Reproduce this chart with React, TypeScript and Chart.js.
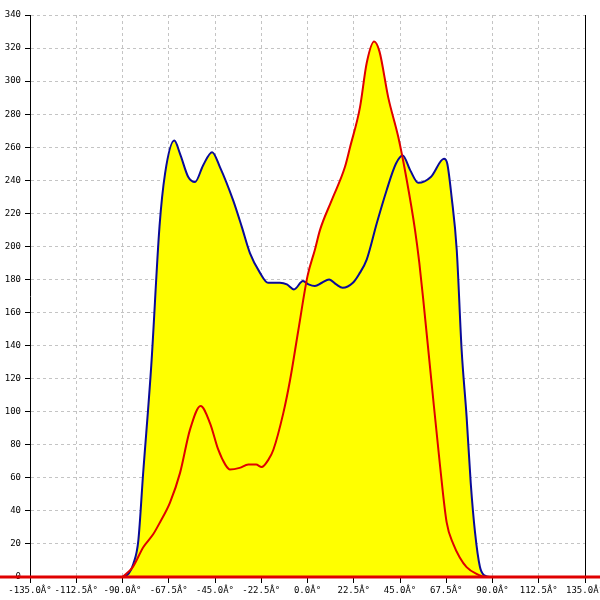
import React, { useEffect, useRef } from "react";
import { Chart, registerables } from "chart.js";

Chart.register(...registerables);

const blueAngles = [-90, -87, -84.7, -82.3, -80, -76, -72, -69.3, -64.8, -62, -58, -54.7, -50.8, -46.4, -42.6, -36.2, -32, -28, -23.1, -19.2, -13.4, -10, -6.6, -2.2, 0.5, 3.6, 7, 10.5, 14, 17.1, 22.1, 25, 28.8, 33.7, 38.5, 43, 46.3, 50, 53.9, 60, 66.4, 68, 70.1, 72.6, 75, 77.4, 79.4, 81.5, 83.9, 86, 88.8, 90];
const blueValues = [0, 2, 8, 22, 62, 128, 212, 244, 264, 256, 242, 239, 249, 257, 248, 228, 212, 196, 184, 178, 178, 177, 174, 179, 177, 176, 178, 180, 177, 175, 178, 183, 192, 214, 234, 250, 255, 246, 238.5, 242, 253, 250, 230, 198, 137, 97, 57, 27, 6, 1, 0, 0];

const redAngles = [-90, -85, -79.9, -75, -71.8, -66.9, -62, -57.2, -52, -47.4, -43.4, -40, -37.7, -33, -28.8, -25, -22.3, -19, -16.6, -11.8, -8.5, -4.5, 0, 3.6, 6.1, 11.8, 18.2, 20.7, 25.5, 28.8, 32.4, 35, 39.3, 44.2, 48.3, 52.3, 54.4, 56.3, 60.4, 64.5, 67.7, 70.9, 74, 77.4, 82, 87.2, 90];
const redValues = [0, 6, 18, 26, 33, 45, 63, 89, 103.5, 93, 77, 68, 65, 66, 68, 68, 66.5, 71, 77, 99, 119, 149, 182, 198, 210, 228, 248, 260, 284, 311, 324, 318, 290, 266, 240, 210, 190, 168, 117, 67, 33, 20, 12, 6, 2, 0, 0];

const xMin = -135;
const xMax = 135;
const xStep = 22.5;
const yMin = 0;
const yMax = 340;
const yStep = 20;

const FONT = { family: "'DejaVu Sans Mono', monospace", size: 9 };

const extras = {
  id: "extras",
  afterDatasetsDraw(chart: any) {
    const { ctx, chartArea, scales } = chart;
    const y0 = scales.y.getPixelForValue(0);
    ctx.save();
    ctx.strokeStyle = "#000000";
    ctx.lineWidth = 1;
    ctx.beginPath();
    ctx.moveTo(chartArea.right + 0.5, chartArea.top);
    ctx.lineTo(chartArea.right + 0.5, chartArea.bottom);
    ctx.stroke();
    ctx.strokeStyle = "#e00000";
    ctx.lineWidth = 3;
    ctx.beginPath();
    ctx.moveTo(0, y0);
    ctx.lineTo(chart.width, y0);
    ctx.stroke();
    ctx.restore();
  },
};

export default function App() {
  const ref = useRef<HTMLCanvasElement>(null);
  useEffect(() => {
    document.body.style.margin = "0";
    const toPts = (a: number[], v: number[]) => a.map((x, i) => ({ x, y: v[i] }));
    const chart = new Chart(ref.current as HTMLCanvasElement, {
      type: "line",
      data: {
        datasets: [
          {
            data: toPts(redAngles, redValues),
            borderColor: "#e00000",
            borderWidth: 2,
            backgroundColor: "#ffff00",
            fill: "origin",
            pointRadius: 0,
            cubicInterpolationMode: "monotone",
          },
          {
            data: toPts(blueAngles, blueValues),
            borderColor: "#0a0a9a",
            borderWidth: 2,
            backgroundColor: "#ffff00",
            fill: "origin",
            pointRadius: 0,
            cubicInterpolationMode: "monotone",
          },
        ],
      },
      options: {
        animation: false,
        responsive: false,
        devicePixelRatio: 1,
        layout: { padding: { top: 15, right: 15, left: 0, bottom: 0 } },
        plugins: {
          legend: { display: false },
          tooltip: { enabled: false },
          filler: { drawTime: "beforeDatasetsDraw" },
        } as any,
        scales: {
          x: {
            type: "linear",
            min: xMin,
            max: xMax,
            ticks: {
              stepSize: xStep,
              color: "#000",
              font: FONT,
              padding: 2,
              maxRotation: 0,
              autoSkip: false,
              callback: (v: any) => Number(v).toFixed(1) + "Â°",
            },
            grid: { color: "#c4c4c4", tickColor: "#000", tickLength: 6 },
            border: { display: true, color: "#000", dash: [3, 3] },
            afterFit: (s: any) => {
              s.height = 23;
              s.paddingLeft = 0;
              s.paddingRight = 0;
            },
          } as any,
          y: {
            min: yMin,
            max: yMax,
            ticks: { stepSize: yStep, color: "#000", font: FONT, padding: 4 },
            grid: { color: "#c4c4c4", tickColor: "#000", tickLength: 5 },
            border: { display: true, color: "#000", dash: [3, 3] },
            afterFit: (s: any) => {
              s.width = 30;
              s.paddingTop = 0;
              s.paddingBottom = 0;
            },
          } as any,
        },
      },
      plugins: [extras],
    });
    return () => chart.destroy();
  }, []);
  return <canvas ref={ref} width={600} height={600} style={{ display: "block" }} />;
}
